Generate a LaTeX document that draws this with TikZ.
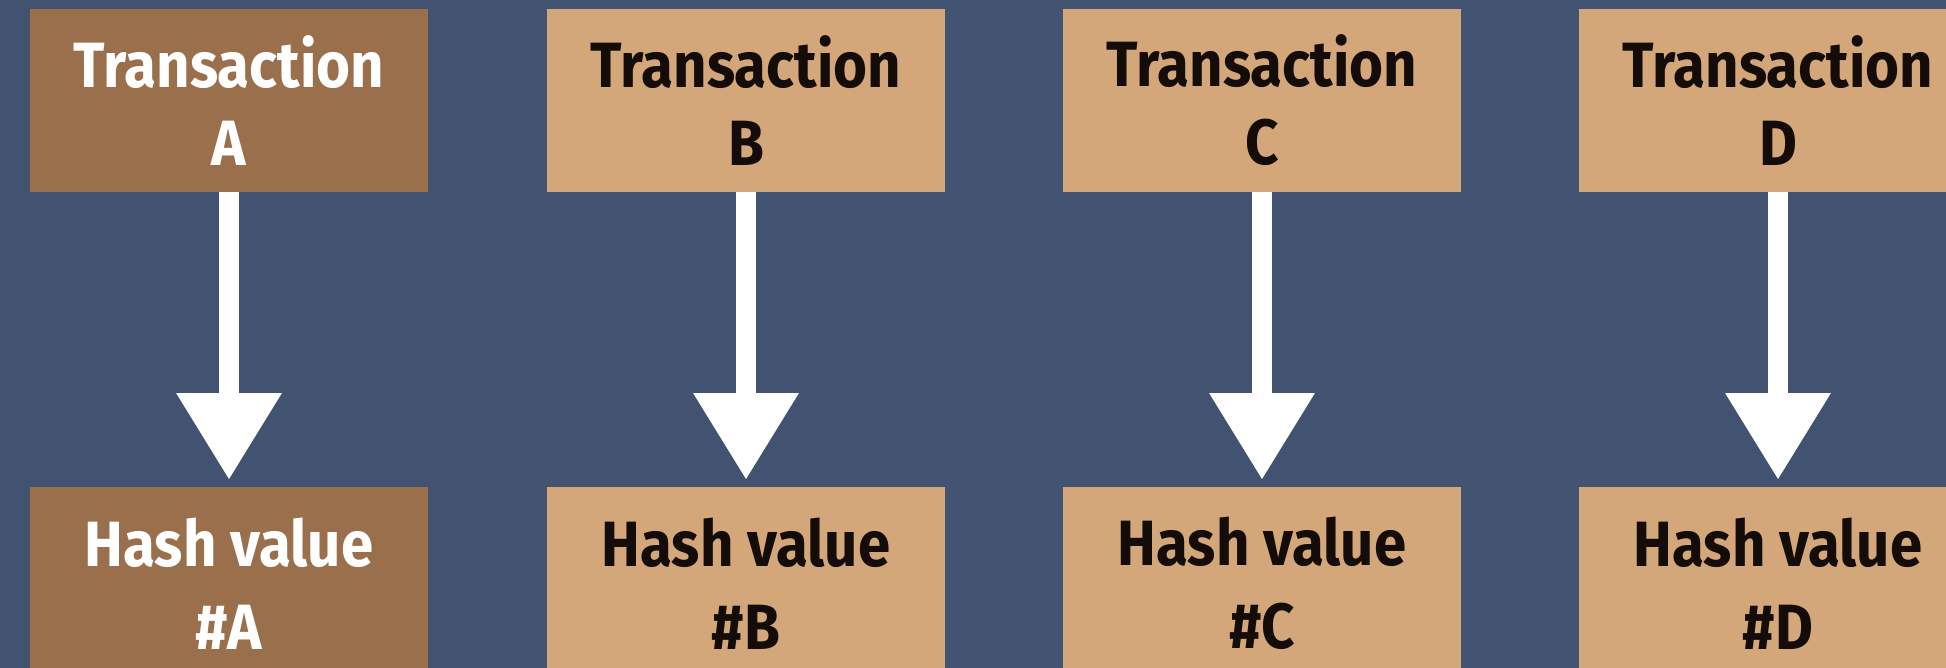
\documentclass[tikz,border=0pt]{standalone}
\usepackage{fontspec}
\setmainfont{Fira Sans}[FakeStretch=0.91]
\usetikzlibrary{arrows.meta}
\definecolor{bgblue}{RGB}{65,83,112}
\definecolor{tanbox}{RGB}{211,167,122}
\definecolor{brownbox}{RGB}{154,111,76}
\definecolor{textdark}{RGB}{20,12,8}
\begin{document}
\begin{tikzpicture}[x=0.5pt,y=-0.5pt,
  box/.style={minimum width=199pt, inner sep=0pt, outer sep=0pt, align=center},
  topbox/.style={box, minimum height=91.5pt, font=\fontsize{32}{39}\selectfont\bfseries},
  hashbox/.style={box, minimum height=96.5pt, font=\fontsize{32}{41.5}\selectfont\bfseries},
  darkbox/.style={fill=brownbox, text=white},
  lightbox/.style={fill=tanbox, text=textdark},
  flow/.style={draw=white, line width=10pt, -{Triangle[width=50pt,length=43.5pt]}, shorten >=3.5pt}]
\useasboundingbox (0,0) rectangle (1946,668);
\fill[bgblue] (0,0) rectangle (1946,668);
\node[topbox,darkbox] (tA) at (229,100.5) {Transaction\\A};
\node[topbox,lightbox] (tB) at (746,100.5) {Transaction\\B};
\node[topbox,lightbox] (tC) at (1262,100.5) {Transaction\\C};
\node[topbox,lightbox] (tD) at (1778,100.5) {Transaction\\D};
\node[hashbox,darkbox] (hA) at (229,583.5) {Hash value\\\#A};
\node[hashbox,lightbox] (hB) at (746,583.5) {Hash value\\\#B};
\node[hashbox,lightbox] (hC) at (1262,583.5) {Hash value\\\#C};
\node[hashbox,lightbox] (hD) at (1778,583.5) {Hash value\\\#D};
\foreach \k in {A,B,C,D}{
  \draw[flow] (t\k.south) -- (h\k.north);
}
\end{tikzpicture}
\end{document}
